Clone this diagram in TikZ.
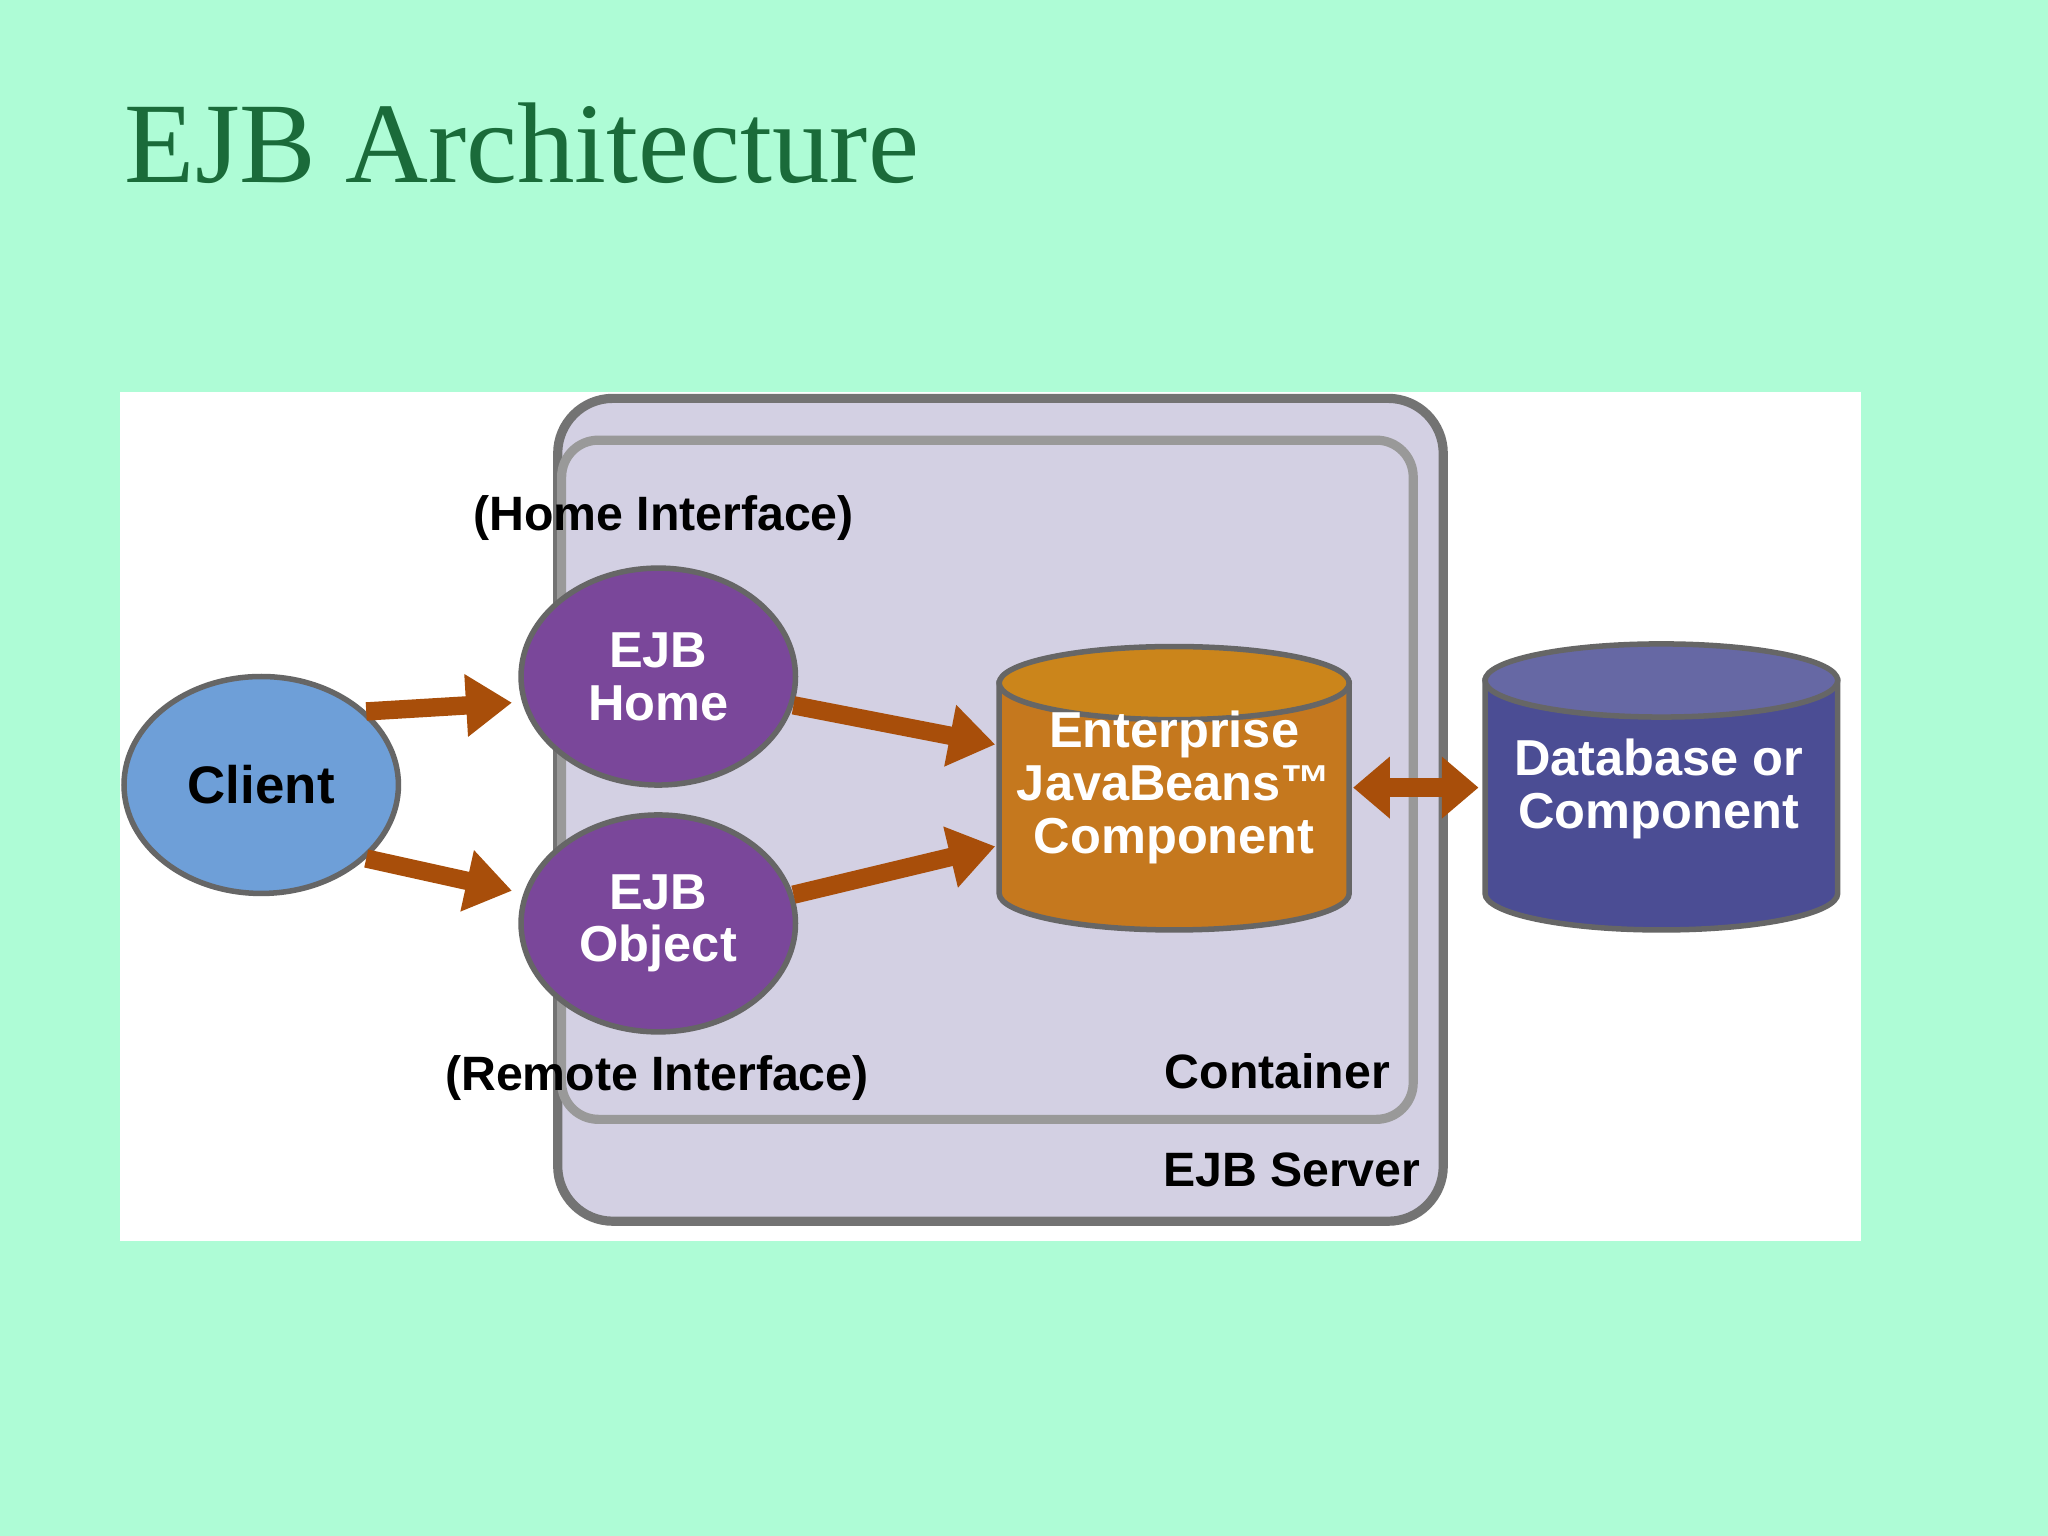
\documentclass[tikz,border=0pt]{standalone}
\usepackage{fontspec}
\setmainfont{Liberation Sans}
\newfontfamily\titlefont{Liberation Serif}
\usetikzlibrary{shapes.geometric,arrows.meta}
\definecolor{bgmint}{HTML}{AEFCD6}
\definecolor{ttl}{HTML}{1A6B3A}
\definecolor{srv}{HTML}{D3D0E3}
\definecolor{cli}{HTML}{6E9FD8}
\definecolor{ejb}{HTML}{7A479A}
\definecolor{ent}{HTML}{C5781E}
\definecolor{dbc}{HTML}{4B4D94}
\definecolor{arr}{HTML}{A84E0A}
\begin{document}
\begin{tikzpicture}[x=0.01cm,y=-0.01cm,
  lbl/.style={font=\fontsize{10.5pt}{12pt}\selectfont\bfseries,text=black},
  wl/.style={font=\fontsize{11pt}{11.5pt}\selectfont\bfseries,text=white,align=center},
  ell/.style={ellipse,draw=black!60,line width=1.2pt,minimum width=2.1cm,minimum height=1.66cm,inner sep=0pt},
  cylb/.style={draw=black!60,line width=1.2pt},
  ar/.style={draw=arr,line width=4pt,-{Triangle[length=10pt,width=13pt]}}]
\fill[bgmint] (0,0) rectangle (1568,1176);
\useasboundingbox (0,0) rectangle (1568,1176);
\node[anchor=base west,text=ttl,font=\titlefont\fontsize{25pt}{28pt}\selectfont,inner sep=0pt] (title) at (95,140) {EJB Architecture};
\fill[white] (92,300) rectangle (1425,950);
\draw[fill=srv,draw=black!55,line width=2pt,rounded corners=12] (427,305) rectangle (1105,935);
\draw[draw=black!40,line width=2pt,rounded corners=8] (430,337) rectangle (1082,857);
\node[lbl] (home) at (508,397) {(Home Interface)};
\node[lbl] (remote) at (503,825) {(Remote Interface)};
\node[lbl] (cont) at (978,820) {Container};
\node[lbl] (srvl) at (989,896) {EJB Server};
\node[ell,fill=cli,font=\fontsize{11.5pt}{13pt}\selectfont\bfseries] (client) at (200,601) {Client};
\node[ell,fill=ejb,wl] (ehome) at (504,518) {EJB\\Home};
\node[ell,fill=ejb,wl] (eobj) at (504,707) {EJB\\Object};
% Enterprise cylinder
\draw[cylb,fill=ent] (765,523) -- (765,684) arc[start angle=180,end angle=0,x radius=134,y radius=28] -- (1033,523) -- cycle;
\draw[cylb,fill=ent!90!yellow] (899,523) ellipse[x radius=134,y radius=28];
\node[wl] (ent) at (899,603) {Enterprise\\JavaBeans™\\Component};
\coordinate (entE) at (1036,603);
% Database cylinder
\draw[cylb,fill=dbc] (1137,521) -- (1137,684) arc[start angle=180,end angle=0,x radius=135,y radius=28] -- (1407,521) -- cycle;
\draw[cylb,fill=dbc!85!white] (1272,521) ellipse[x radius=135,y radius=28];
\node[wl] (db) at (1270,604) {Database or\\Component};
\coordinate (dbW) at (1132,603);
\draw[ar] (client.35) -- (392,538);
\draw[ar] (client.-35) -- (392,682);
\draw[ar] (ehome.-12) -- (762,570);
\draw[ar] (eobj.12) -- (762,648);
\draw[draw=arr,line width=4pt,{Triangle[length=8pt,width=13pt]}-{Triangle[length=8pt,width=13pt]}] (entE) -- (dbW);
\end{tikzpicture}
\end{document}
